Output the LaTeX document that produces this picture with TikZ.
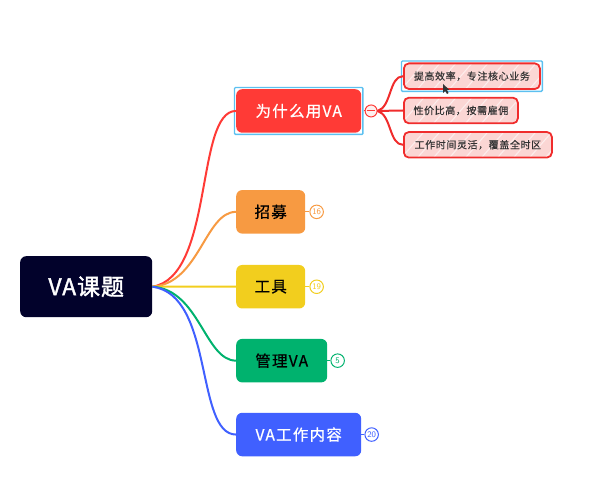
\documentclass[tikz,border=0pt]{standalone}
\usepackage{fontspec}
\newfontfamily\cjk[LetterSpace=8,FakeBold=0.6]{Noto Sans CJK SC}
\newfontfamily\cjksmall[LetterSpace=6,FakeBold=0.3]{Noto Sans CJK SC}
\newfontfamily\cjkbold[LetterSpace=4,FakeBold=1.5]{Noto Sans CJK SC}
\usetikzlibrary{positioning, fit, calc}
\definecolor{rootblue}{HTML}{02022B}
\definecolor{whyred}{HTML}{FF3A36}
\definecolor{hireorange}{HTML}{F79A42}
\definecolor{toolyellow}{HTML}{F2CE1E}
\definecolor{manegreen}{HTML}{00B26E}
\definecolor{workblue}{HTML}{4060FF}
\definecolor{subpink}{HTML}{FBD6D4}
\definecolor{subred}{HTML}{F02C2C}
\definecolor{selblue}{HTML}{5CC0F0}

\begin{document}
\begin{tikzpicture}[
    x=1pt, y=-1pt,
    root/.style={rectangle, rounded corners=6pt, fill=rootblue, text=white, minimum width=132pt, minimum height=61pt, inner sep=0pt, font=\cjkbold\fontsize{23}{25}\selectfont},
    branch/.style={rectangle, rounded corners=6pt, minimum height=43.5pt, inner sep=0pt, font=\cjk\fontsize{15.5}{18}\selectfont},
    leaf/.style={rectangle, rounded corners=5pt, draw=subred, line width=1.8pt, fill=subpink, minimum height=25.6pt, inner sep=0pt, font=\cjksmall\fontsize{10}{12}\selectfont, text=black!80,
        path picture={
            \foreach \i in {0,16,...,176} {
                \draw[white!55!subpink, line width=1.1pt] ($(path picture bounding box.south west)+(\i-20,2)$) -- ++(26,-30);
            }
        }},
    selbox/.style={rectangle, draw=selblue, line width=1.4pt, rounded corners=1pt, inner sep=1.5pt},
    badge/.style={circle, draw, fill=white, line width=1pt, minimum size=13.5pt, inner sep=0pt, font=\sffamily\fontsize{8.5}{9}\selectfont},
    link/.style={line width=2pt}
]
\useasboundingbox (0,0) rectangle (606,500);

\node[root, anchor=north west] (va) at (20,256) {VA课题};

\node[branch, fill=whyred, text=white, minimum width=125pt, anchor=north west] (why) at (236,89) {为什么用VA};
\node[branch, fill=hireorange, text=black, minimum width=69pt, below=57pt of why.south west, anchor=north west] (hire) {招募};
\node[branch, fill=toolyellow, text=black, minimum width=69pt, below=31pt of hire.south west, anchor=north west] (tool) {工具};
\node[branch, fill=manegreen, text=black, minimum width=91pt, below=30pt of tool.south west, anchor=north west] (mane) {管理VA};
\node[branch, fill=workblue, text=white, minimum width=125pt, below=30pt of mane.south west, anchor=north west] (work) {VA工作内容};

\node[leaf, minimum width=136pt, anchor=north west] (rate) at (403,62.5) {提高效率，专注核心业务};
\node[leaf, minimum width=114pt, below=6.9pt of rate.south west, anchor=north west] (cost) {性价比高，按需雇佣};
\node[leaf, minimum width=148pt, below=6.9pt of cost.south west, anchor=north west] (time) {工作时间灵活，覆盖全时区};

\node[selbox, fit=(why)] (whysel) {};
\node[selbox, fit=(rate)] (ratesel) {};

\node[badge, draw=whyred, fill=subpink!40, minimum size=12pt, right=1pt of whysel] (fold) {};
\draw[whyred, line width=0.9pt] ($(fold.west)+(2.5,0)$) -- ($(fold.east)+(-2.5,0)$);
\node[badge, draw=hireorange, text=hireorange, right=4pt of hire] (hirenum) {16};
\node[badge, draw=toolyellow, text=toolyellow, right=4pt of tool] (toolnum) {19};
\node[badge, draw=manegreen, text=manegreen, right=3pt of mane] (manenum) {5};
\node[badge, draw=workblue, text=workblue, right=3pt of work] (worknum) {20};

\draw[link, whyred] (va.east) .. controls +(62,-10) and +(-41,0) .. (why.west);
\draw[link, hireorange] (va.east) .. controls +(47,-3) and +(-31,0) .. (hire.west);
\draw[link, toolyellow] (va.east) -- (tool.west);
\draw[link, manegreen] (va.east) .. controls +(47,3) and +(-31,0) .. (mane.west);
\draw[link, workblue] (va.east) .. controls +(62,8) and +(-41,0) .. (work.west);

\draw[whyred, line width=1pt] (whysel.east) -- (fold.west);
\draw[hireorange, line width=1pt] (hire.east) -- (hirenum.west);
\draw[toolyellow, line width=1pt] (tool.east) -- (toolnum.west);
\draw[manegreen, line width=1pt] (mane.east) -- (manenum.west);
\draw[workblue, line width=1pt] (work.east) -- (worknum.west);

\draw[link, subred] (fold.east) .. controls +(14,-4) and +(-14,0) .. (rate.west);
\draw[link, subred] (fold.east) -- (cost.west);
\draw[link, subred] (fold.east) .. controls +(14,4) and +(-14,0) .. (time.west);

\fill[black!80] (443,84) -- (443,93) -- (445.2,91) -- (447,94) -- (448.5,93) -- (447,90) -- (449.5,90) -- cycle;
\end{tikzpicture}
\end{document}
